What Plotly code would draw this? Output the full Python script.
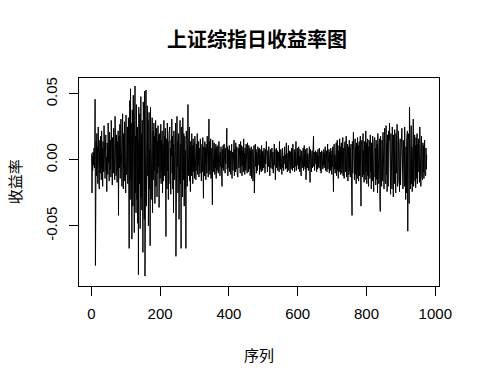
import plotly.graph_objects as go

# Daily returns, in units of 0.001 (per mille), index 1..N
returns_permille = [
    5, -25, 3, -8, 6, 2, -4, 9, -6, 4, 46, -80, 8, 14, -12, 20, -5, 10, -18, 25, -3, 12, -22, 6, 15,
    -10, 18, 4, -15, 22, -6, 9, -20, 14, 3, -9, 26, -4, 11, -14, 7, 19, -8, 2, -24, 13, 6, -11, 28, -2,
    10, -16, 21, 5, -7, 15, -13, 30, -5, 8, -19, 17, 2, -10, 24, -6, 12, -15, 33, -3, 9, -12, 19, 4, -17,
    14, -8, 22, -42, 10, 18, -6, 27, -14, 5, 31, -9, 15, -20, 8, 35, -4, -22, 20, 11, -16, 29, -7, 13, -25,
    34, -11, 16, -5, 25, -18, 9, 32, -21, -67, 20, 45, -30, 54, -15, 28, -10, -60, 38, 12, -35, 49, -20, 8, -55,
    30, 56, -25, 18, -40, 42, 10, -30, 25, -48, 15, -87, 40, 22, -18, 35, -52, 12, 48, -28, 20, -38, 30, 5, -70,
    44, -15, 26, -45, 52, -88, 38, 10, 53, -35, 20, -25, 41, -12, 30, -50, 18, 36, -22, 8, -65, 40, 15, -30, 25,
    -18, 32, -40, 12, 22, -15, 28, -8, 18, -33, 10, 30, -20, 6, 24, -28, 14, -10, 26, -5, 19, -36, 11, 20, -14,
    8, 27, -18, 15, -9, 22, -25, 12, 4, -16, 30, -12, 18, -6, 24, -20, -58, 16, 10, -22, 28, -8, 14, -30, 6,
    20, -12, 25, -18, 9, -26, 15, 3, 31, -10, 18, -22, 12, -40, 22, 7, -15, 26, -8, 28, -73, 18, -20, 33, -5,
    14, -25, 20, 8, -45, 24, -10, 30, -18, 12, -67, 25, -6, 16, -28, 32, 4, -15, 20, -35, 10, 18, -22, 7, -67,
    22, -10, 15, -20, 28, 42, -12, 18, -8, 25, -16, 10, -24, 14, 6, -12, 20, -5, 11, -18, 16, -9, 8, 13, -14,
    18, -6, 10, -15, 4, 12, -8, 20, -11, 7, -4, 14, -13, 9, 3, -10, 16, -7, 11, -16, 5, 12, -9, 17, -5,
    -29, 10, 6, -12, 14, -4, 9, -15, 12, 3, -10, 18, -6, 8, -13, 11, 31, -8, 14, -11, 5, 16, -14, 7, 9,
    -12, -34, 15, -5, 10, -9, 13, 4, -11, 8, -6, 12, -14, 6, 10, -8, 5, 11, -10, 3, 14, -7, 8, -12, 6,
    -5, 10, -9, 4, -20, 8, -6, 11, 2, -8, 12, -4, 7, -10, 9, -3, 6, 14, 24, -7, 10, -12, 5, 8, -6,
    11, -9, 4, 7, -11, 9, -5, 12, -14, 6, 3, -8, 10, -6, 15, -12, 8, 2, -9, 13, -7, 5, 10, -10, 7,
    -13, 9, 4, -6, 12, -8, 6, -10, 14, -5, 8, 11, -12, 7, -4, 10, -9, 16, -7, 5, -11, 9, 3, -8, 12,
    -6, 8, -10, 13, -4, 6, -9, 11, -7, 4, 9, -12, 7, -5, 10, -14, -10, 6, 8, -16, 5, -8, 11, -25, 9,
    -7, 12, -5, 8, -10, 6, 3, -8, 10, -6, 7, -4, 9, -11, 5, 8, -7, 4, -9, 11, -5, 6, -8, 7, 3,
    -6, 9, -4, 5, -10, 8, -3, 6, 14, -7, 4, -9, 7, 2, -5, 10, -8, 6, -12, 4, 8, -6, 5, -4, 9,
    -7, 3, 6, -10, 7, -5, 12, -4, 8, -15, 5, -3, 9, -6, 4, 7, -8, 5, -2, 6, -9, 14, -5, 3, -7,
    8, -4, 6, -11, 5, 9, -6, 3, -8, 7, -5, 10, -3, 4, -7, 8, 13, -6, 5, -9, 6, -4, 11, -8, 4,
    -5, 7, -10, 6, 3, -7, 9, -4, 5, -8, 12, -6, 4, -3, 8, -9, 6, -5, 7, 14, -8, 5, -6, 9, -4,
    6, -7, 10, -5, 3, -9, 8, -4, 6, -12, 5, 7, -6, 4, -3, 9, -8, 6, 11, -5, 4, -7, 8, -15, 6,
    -4, 9, -6, 5, 3, -8, 7, -5, 10, -7, -17, 8, -4, 6, -9, 5, 7, -6, 4, 12, 18, -5, 6, -8, 4,
    -6, 7, -3, 5, -9, 6, 4, -7, 8, -5, 3, -6, 9, -4, 5, -8, 6, -10, 4, 7, -5, 3, -7, 6, -4,
    8, -6, 5, -3, 10, -8, 4, -5, 7, -9, 6, 12, -7, 5, -4, 8, -10, 6, 3, -8, 9, -6, 4, -11, 7,
    -5, 10, -8, -24, 6, 12, -7, 4, -10, 9, -5, 13, -12, 6, 15, -8, 11, -14, 7, 4, -9, 16, -6, 10, -11,
    5, 13, -10, 8, -6, 17, -12, 9, 3, -14, 11, -7, 14, -9, 6, 18, -13, 8, -5, 12, -16, 10, 4, -11, 15,
    -8, 9, -13, 6, 12, -20, -30, -42, 14, -10, 8, 21, -9, 12, -15, 7, 16, -11, 10, -18, 13, 5, -14, 17, -8,
    11, -16, 8, 14, -12, 6, 18, -10, -35, 12, -7, 15, -13, 9, 20, -11, 7, -17, 14, 4, -15, 11, 22, -9, 13,
    -18, 8, 16, -12, 10, -20, 15, -6, 12, -14, 19, -9, 7, -22, 13, 5, -16, 18, -10, 11, -24, 14, -8, 17, -13,
    9, -19, 15, 6, -15, 12, -25, 20, -10, 14, -18, 8, 16, -28, -39, 18, -12, 10, -20, 15, 5, -16, 21, -9, 12,
    -22, 16, 24, -14, 10, -18, 26, -11, 13, -24, 19, 7, -20, 22, -13, 15, 28, -17, 11, -26, 20, -9, 14, -22, 25,
    -12, 17, -28, 19, 8, -18, 23, -15, 12, -25, 20, -10, 15, 27, -20, 9, -16, 22, -13, 18, -24, 11, 16, -19, 14,
    -11, 20, 24, -17, 9, -22, 15, -14, 12, -20, 25, -13, 18, -30, 10, -25, 17, -35, 22, -54, 14, -28, 20, -33, 40,
    -15, 18, -22, 12, 26, -18, 10, -24, 16, -12, 31, -20, 14, -10, 19, -16, 11, -21, 17, 8, -14, 20, -18, 12, -9,
    16, -13, 10, -17, 25, -11, 14, -20, 9, 18, -12, 7, -15, 13, -9, 11, -14, 8, 15, -10, 6, -12, 9, -7, 4,
]
returns = [v / 1000.0 for v in returns_permille]
index = list(range(1, len(returns) + 1))

x_ticks = [0, 200, 400, 600, 800, 1000]
y_ticks = [-0.05, 0.0, 0.05]
y_tick_labels = ["-0.05", "0.00", "0.05"]

title_text = "上证综指日收益率图"
x_label = "序列"
y_label = "收益率"

fig = go.Figure()
fig.add_trace(go.Scatter(x=index, y=returns, mode="lines",
                         line=dict(color="black", width=1), hoverinfo="skip"))

tick_font = dict(family="Liberation Sans, Arial, sans-serif", size=15, color="black")
cjk = "Noto Sans CJK SC, sans-serif"

fig.update_layout(
    width=480, height=384,
    margin=dict(l=79, r=41, t=78, b=98, pad=0),
    paper_bgcolor="white", plot_bgcolor="white",
    showlegend=False,
    xaxis=dict(range=[-35.8, 1010.8], tickvals=x_ticks, ticks="outside", ticklen=9,
               tickcolor="black", tickwidth=1, showgrid=False, zeroline=False,
               showline=True, linecolor="black", linewidth=1, mirror=True,
               tickfont=tick_font, ticklabelstandoff=5),
    yaxis=dict(range=[-0.0955, 0.0621], tickvals=y_ticks, ticktext=y_tick_labels,
               ticks="outside", ticklen=9, tickcolor="black", tickwidth=1,
               showgrid=False, zeroline=False, showline=True, linecolor="black",
               linewidth=1, mirror=True, tickfont=tick_font, tickangle=-90,
               ticklabelstandoff=6),
    annotations=[
        dict(text="<b>" + title_text + "</b>", xref="paper", yref="paper", x=0.495, y=1.188,
             xanchor="center", yanchor="middle", showarrow=False,
             font=dict(family=cjk, size=20, color="black")),
        dict(text=x_label, xref="paper", yref="paper", x=0.5, y=-0.327,
             xanchor="center", yanchor="middle", showarrow=False,
             font=dict(family=cjk, size=15, color="black")),
        dict(text=y_label, xref="paper", yref="paper", x=-0.180, y=0.5,
             xanchor="center", yanchor="middle", showarrow=False, textangle=-90,
             font=dict(family=cjk, size=15, color="black")),
    ],
)

# Remove the browser's default 8px page margin so the figure fills the window exactly.
fig.write_html("out.html", config={"displayModeBar": False},
               post_script="document.body.style.margin='0px';")
